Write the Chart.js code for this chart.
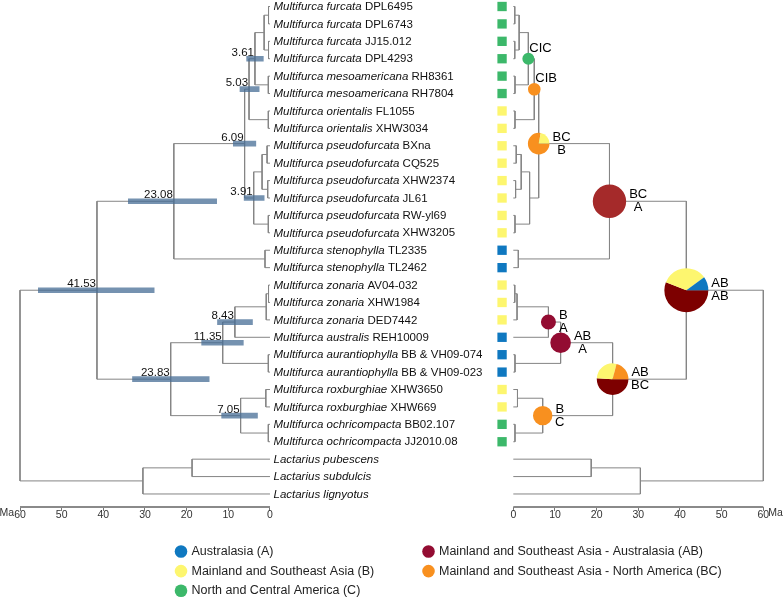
<!DOCTYPE html>
<html>
<head>
<meta charset="utf-8">
<title>Multifurca chronogram and ancestral areas</title>
<script src="https://cdn.jsdelivr.net/npm/chart.js@4.4.1/dist/chart.umd.min.js"></script>
<style>
  html, body { margin: 0; padding: 0; background: #fff; }
  #wrap { position: relative; width: 784px; height: 598px; }
</style>
</head>
<body>
<div id="wrap"><canvas id="treeChart"></canvas></div>
<script>
// tips, top to bottom
const SPECIES = [
  "Multifurca furcata", "Multifurca furcata", "Multifurca furcata", "Multifurca furcata",
  "Multifurca mesoamericana", "Multifurca mesoamericana",
  "Multifurca orientalis", "Multifurca orientalis",
  "Multifurca pseudofurcata", "Multifurca pseudofurcata", "Multifurca pseudofurcata",
  "Multifurca pseudofurcata", "Multifurca pseudofurcata", "Multifurca pseudofurcata",
  "Multifurca stenophylla", "Multifurca stenophylla",
  "Multifurca zonaria", "Multifurca zonaria", "Multifurca zonaria",
  "Multifurca australis",
  "Multifurca aurantiophylla", "Multifurca aurantiophylla",
  "Multifurca roxburghiae", "Multifurca roxburghiae",
  "Multifurca ochricompacta", "Multifurca ochricompacta",
  "Lactarius pubescens", "Lactarius subdulcis", "Lactarius lignyotus"
];
const VOUCHERS = [
  "DPL6495", "DPL6743", "JJ15.012", "DPL4293", "RH8361", "RH7804", "FL1055", "XHW3034",
  "BXna", "CQ525", "XHW2374", "JL61", "RW-yl69", "XHW3205", "TL2335", "TL2462",
  "AV04-032", "XHW1984", "DED7442", "REH10009", "BB & VH09-074", "BB & VH09-023",
  "XHW3650", "XHW669", "BB02.107", "JJ2010.08", "", "", ""
];
const TIP_AREA = [
  "C", "C", "C", "C", "C", "C", "B", "B", "B", "B", "B", "B", "B", "B", "A", "A",
  "B", "B", "B", "A", "A", "A", "B", "B", "C", "C", null, null, null
];

// clades: id, age (Ma) and the two children (tip index or clade id)
const CLADE_ID = [
  "fur1", "fur2", "fur", "meso", "n361", "ori", "n503", "ps1", "ps2", "ps12", "ps3",
  "n391", "n609", "ste", "n2308", "zon1", "zon", "n843", "aur", "n1135", "rox", "och",
  "n705", "n2383", "n4153", "lac1", "lac", "root"
];
const CLADE_AGE = [
  0.35, 0.35, 1.4, 0.4, 3.61, 0.4, 5.03, 0.7, 0.55, 1.9, 0.4,
  3.91, 6.09, 1.2, 23.08, 0.35, 0.9, 8.43, 0.4, 11.35, 1.0, 0.4,
  7.05, 23.83, 41.53, 18.7, 30.5, 60
];
const CLADE_KIDS = [
  [0, 1], [2, 3], ["fur1", "fur2"], [4, 5], ["fur", "meso"], [6, 7], ["n361", "ori"],
  [8, 9], [10, 11], ["ps1", "ps2"], [12, 13], ["ps12", "ps3"], ["n503", "n391"],
  [14, 15], ["n609", "ste"], [16, 17], ["zon1", 18], ["zon", 19], [20, 21],
  ["n843", "aur"], [22, 23], [24, 25], ["rox", "och"], ["n1135", "n705"],
  ["n2308", "n2383"], [26, 27], ["lac1", 28], ["n4153", "lac"]
];

// dated nodes with 95% HPD intervals (Ma)
const DATED = ["n361", "n503", "n609", "n391", "n2308", "n4153", "n843", "n1135", "n2383", "n705"];
const HPD_OLD = [5.6, 7.2, 8.8, 6.2, 34.0, 55.6, 12.6, 16.4, 33.0, 11.6];
const HPD_YOUNG = [1.6, 2.6, 3.4, 1.4, 12.8, 27.8, 4.2, 6.4, 14.6, 3.0];

// ancestral range pies on the right tree
const PIE_NODE = ["n361", "n503", "n609", "n2308", "n4153", "n843", "n1135", "n705", "n2383"];
const PIE_AREAS = [["C"], ["BC"], ["BC", "B"], ["AC"], ["ABC", "B", "A"], ["AB"], ["AB"], ["BC"], ["ABC", "B", "BC"]];
const PIE_SHARE = [[1], [1], [0.78, 0.22], [1], [0.56, 0.34, 0.10], [1], [1], [1], [0.51, 0.28, 0.21]];
const PIE_TOP = ["CIC", "CIB", "BC", "BC", "AB", "B", "AB", "B", "AB"];
const PIE_BOTTOM = ["", "", "B", "A", "AB", "A", "A", "C", "BC"];

const AXIS_TICKS = [0, 10, 20, 30, 40, 50, 60];

const LEGEND_AREAS = ["A", "B", "C", "AB", "BC"];
const LEGEND_TEXT = [
  "Australasia (A)",
  "Mainland and Southeast Asia (B)",
  "North and Central America (C)",
  "Mainland and Southeast Asia - Australasia (AB)",
  "Mainland and Southeast Asia - North America (BC)"
];

// ---- styling / layout ----
const AREA_COLOR = {
  A: "#0f78c0", B: "#fdf66f", C: "#3cb86a", AB: "#930c32",
  BC: "#f8901f", AC: "#a52a2a", ABC: "#7d0000"
};
const PIE_SIZE = { n361: 6, n503: 6.3, n609: 10.8, n2308: 16.7, n4153: 22, n843: 7.5, n1135: 10.3, n705: 9.7, n2383: 15.8 };
const FONT = '"Liberation Sans", Arial, sans-serif';
const RIGHT_OFF = 118.4; // where 0 Ma of the right tree sits on the shared x scale
const SQUARE_MA = -2.7;  // area squares just left of the right tree tips
const LAST_ROW = 28.748;

const leftX = (ma) => 60 - ma;
const rightX = (ma) => RIGHT_OFF + ma;

function cladeIdx(id) {
  return CLADE_ID.indexOf(id);
}

function rowOf(k) {
  if (typeof k === "number") return k;
  const [a, b] = CLADE_KIDS[cladeIdx(k)];
  return (rowOf(a) + rowOf(b)) / 2;
}

function ageOf(k) {
  return typeof k === "number" ? 0 : CLADE_AGE[cladeIdx(k)];
}

// one polyline per clade: child -> elbow -> elbow -> child, gaps between
function treePoints(toX) {
  const pts = [];
  CLADE_ID.forEach((id, i) => {
    const nx = toX(CLADE_AGE[i]);
    const [a, b] = CLADE_KIDS[i].map((k) => ({ x: toX(ageOf(k)), y: rowOf(k) }));
    pts.push(a, { x: nx, y: a.y }, { x: nx, y: b.y }, b, { x: NaN, y: NaN });
  });
  return pts;
}

const squareRows = [];
const squareColors = [];
TIP_AREA.forEach((area, i) => {
  if (!area) return;
  squareRows.push({ x: rightX(SQUARE_MA), y: i });
  squareColors.push(AREA_COLOR[area]);
});

const treeLine = {
  type: "line",
  borderColor: "#858585",
  borderWidth: 1,
  pointRadius: 0,
  fill: false,
  tension: 0,
  clip: false,
  order: 3,
};

const decorPlugin = {
  id: "treeDecor",
  afterDatasetsDraw(chart) {
    const { ctx } = chart;
    const x = chart.scales.x;
    const y = chart.scales.y;
    ctx.save();

    // pies + range labels
    PIE_NODE.forEach((id, i) => {
      const cx = x.getPixelForValue(rightX(ageOf(id)));
      const cy = y.getPixelForValue(rowOf(id));
      const r = PIE_SIZE[id];
      let start = 0;
      PIE_AREAS[i].forEach((area, k) => {
        const sweep = PIE_SHARE[i][k] * Math.PI * 2;
        ctx.beginPath();
        ctx.moveTo(cx, cy);
        ctx.arc(cx, cy, r, start, start + sweep);
        ctx.closePath();
        ctx.fillStyle = AREA_COLOR[area];
        ctx.fill();
        start += sweep;
      });

      ctx.font = "13px " + FONT;
      ctx.fillStyle = "#000";
      ctx.textBaseline = "middle";
      ctx.textAlign = "left";
      if (!PIE_BOTTOM[i]) {
        ctx.fillText(PIE_TOP[i], cx + 1, cy - 10.5);
      } else {
        const left = cx + r + 3;
        const w1 = ctx.measureText(PIE_TOP[i]).width;
        ctx.fillText(PIE_TOP[i], left, cy - 6.5);
        ctx.textAlign = "center";
        ctx.fillText(PIE_BOTTOM[i], left + w1 / 2, cy + 6.5);
      }
    });

    // node ages
    ctx.font = "11.5px " + FONT;
    ctx.fillStyle = "#111";
    ctx.textAlign = "right";
    ctx.textBaseline = "alphabetic";
    DATED.forEach((id) => {
      const px = x.getPixelForValue(leftX(ageOf(id)));
      const py = y.getPixelForValue(rowOf(id));
      ctx.fillText(ageOf(id).toFixed(2), px - 1, py - 3);
    });

    // taxon names
    ctx.textAlign = "left";
    ctx.textBaseline = "middle";
    const tx = x.getPixelForValue(leftX(0)) + 3.5;
    SPECIES.forEach((sp, i) => {
      const py = y.getPixelForValue(i) + 0.5;
      ctx.font = "italic 11.5px " + FONT;
      ctx.fillStyle = "#111";
      ctx.fillText(sp, tx, py);
      if (VOUCHERS[i]) {
        const w = ctx.measureText(sp + " ").width;
        ctx.font = "11.5px " + FONT;
        ctx.fillText(VOUCHERS[i], tx + w, py);
      }
    });

    // axis units
    ctx.font = "10.5px " + FONT;
    ctx.fillStyle = "#333";
    const ay = y.getPixelForValue(LAST_ROW) + 6.5;
    ctx.textAlign = "right";
    ctx.fillText("Ma", x.getPixelForValue(leftX(60)) - 6, ay);
    ctx.textAlign = "left";
    ctx.fillText("Ma", x.getPixelForValue(rightX(60)) + 5, ay);

    // legend, two columns
    ctx.font = "12.5px " + FONT;
    LEGEND_AREAS.forEach((area, i) => {
      const col = i < 3 ? 0 : 1;
      const row = i < 3 ? i : i - 3;
      const lx = col === 0 ? 181 : 428.5;
      const ly = 551.5 + row * 19.6;
      ctx.beginPath();
      ctx.arc(lx, ly, 6.3, 0, Math.PI * 2);
      ctx.fillStyle = AREA_COLOR[area];
      ctx.fill();
      ctx.fillStyle = "#222";
      ctx.textAlign = "left";
      ctx.fillText(LEGEND_TEXT[i], lx + 10.5, ly);
    });

    ctx.restore();
  },
};

new Chart(document.getElementById("treeChart"), {
  type: "line",
  data: {
    datasets: [
      { ...treeLine, label: "chronogram", data: treePoints(leftX) },
      { ...treeLine, label: "area tree", data: treePoints(rightX) },
      {
        ...treeLine,
        label: "time axes",
        borderColor: "#8a8a8a",
        borderWidth: 2,
        data: [
          { x: leftX(60), y: LAST_ROW }, { x: leftX(0), y: LAST_ROW }, { x: NaN, y: NaN },
          { x: rightX(0), y: LAST_ROW }, { x: rightX(60), y: LAST_ROW },
        ],
      },
      {
        type: "bar",
        label: "95% HPD",
        indexAxis: "y",
        data: DATED.map((id, i) => ({
          x: [leftX(HPD_OLD[i]), leftX(HPD_YOUNG[i])],
          y: rowOf(id),
        })),
        backgroundColor: "rgba(71, 110, 150, 0.75)",
        borderWidth: 0,
        barThickness: 5,
        order: 0,
      },
      {
        type: "scatter",
        label: "tip areas",
        data: squareRows,
        pointStyle: "rect",
        pointRadius: 6.6,
        pointBackgroundColor: squareColors,
        pointBorderWidth: 0,
        clip: false,
        order: 1,
      },
    ],
  },
  options: {
    responsive: true,
    maintainAspectRatio: false,
    animation: false,
    layout: { autoPadding: false, padding: { left: 20, right: 20.7, top: 0, bottom: 61 } },
    scales: {
      x: {
        type: "linear",
        min: 0,
        max: RIGHT_OFF + 60,
        offset: false,
        afterBuildTicks: (scale) => {
          const vals = AXIS_TICKS.map((t) => leftX(t)).concat(AXIS_TICKS.map((t) => rightX(t)));
          scale.ticks = vals.map((v) => ({ value: v }));
        },
        afterFit: (scale) => {
          scale.height = 30;
        },
        ticks: {
          autoSkip: false,
          maxRotation: 0,
          minRotation: 0,
          padding: -2,
          color: "#333",
          font: { family: FONT, size: 10.5 },
          callback: (v) => String(Math.round(v <= 60.01 ? 60 - v : v - RIGHT_OFF)),
        },
        grid: {
          offset: false,
          drawOnChartArea: false,
          drawTicks: true,
          tickLength: 4,
          color: "#777",
        },
        border: { display: false },
      },
      y: {
        type: "linear",
        display: false,
        reverse: true,
        offset: false,
        grid: { offset: false },
        min: -0.373,
        max: LAST_ROW,
      },
    },
    plugins: {
      legend: { display: false },
      tooltip: { enabled: false },
    },
  },
  plugins: [decorPlugin],
});
</script>
</body>
</html>
